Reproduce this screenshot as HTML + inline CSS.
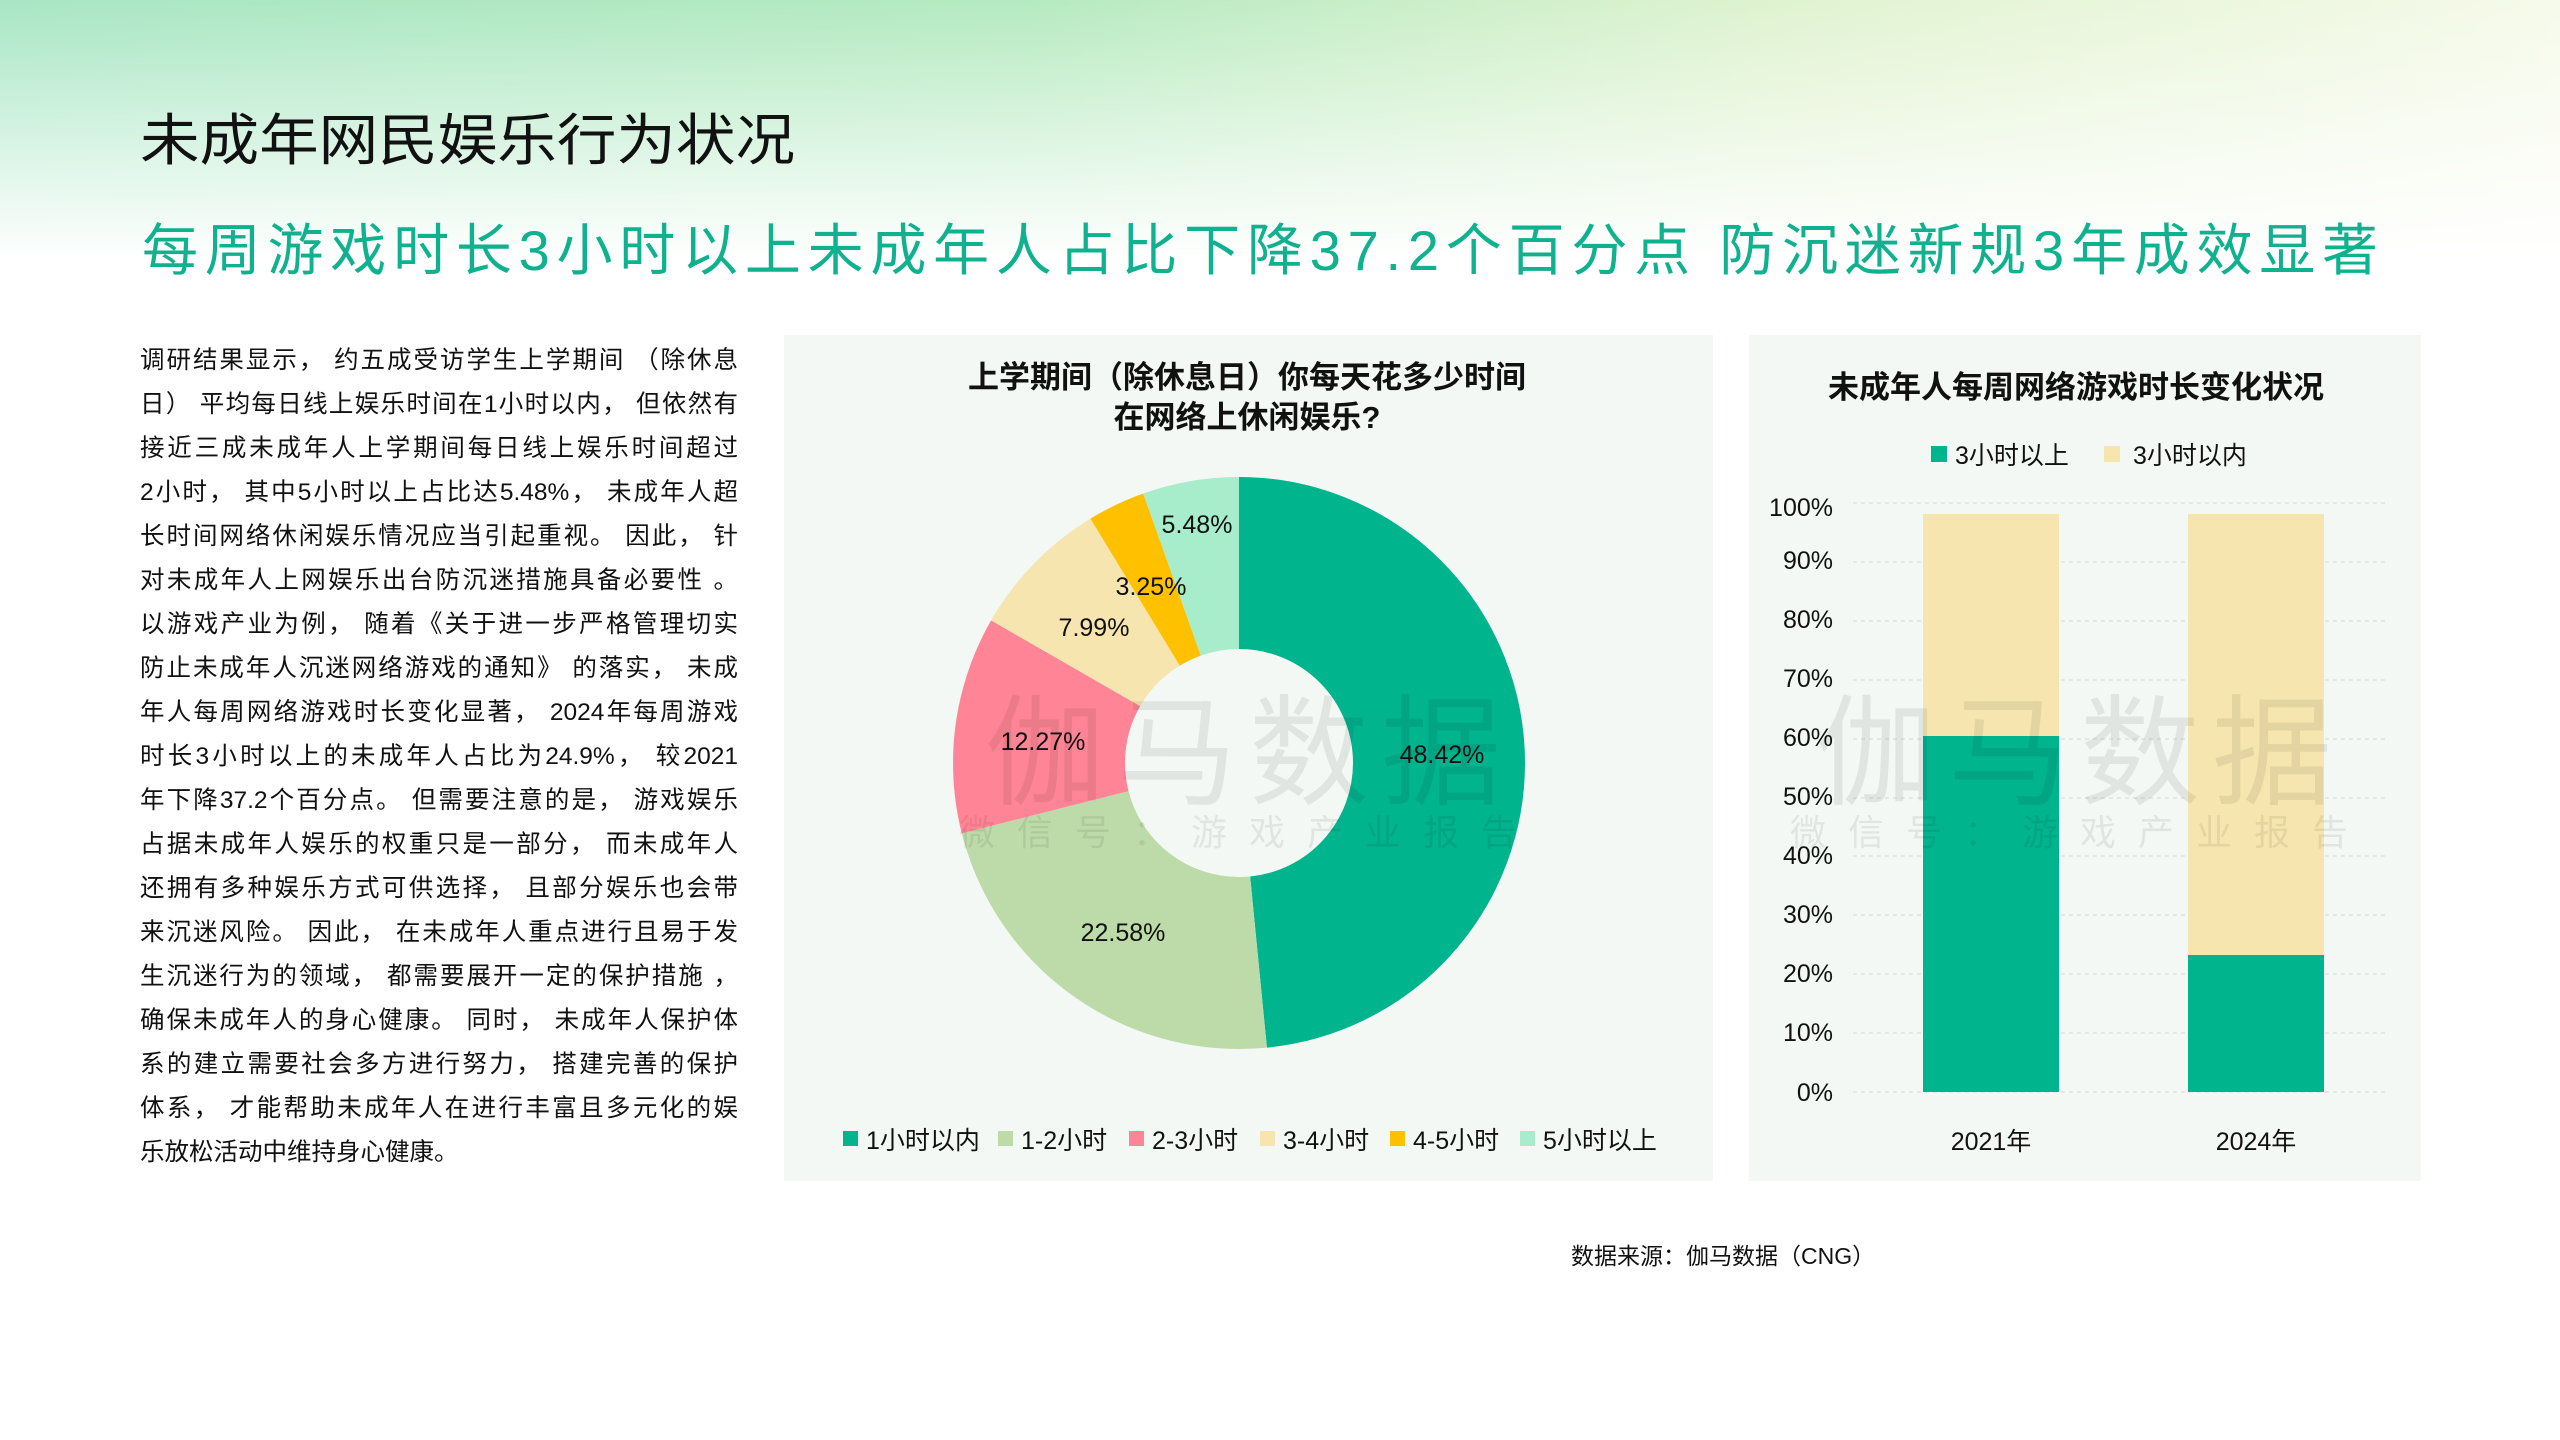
<!DOCTYPE html>
<html><head><meta charset="utf-8">
<style>
html,body{margin:0;padding:0}
body{width:2560px;height:1440px;position:relative;overflow:hidden;background:#fff;font-family:"Liberation Sans","Noto Sans CJK SC",sans-serif}
.bg{position:absolute;left:0;top:0;width:2560px;height:260px;background:linear-gradient(180deg,rgba(255,255,255,0) 0%,#fff 100%),linear-gradient(90deg,#a8e6c4 0%,#b5eac0 40%,#e0f3d0 70%,#f6faea 100%)}
.body{position:absolute;left:140px;top:339px;width:598px;font-size:24.5px;line-height:44px;color:#111}
.body div{text-align:justify;text-align-last:justify;height:44px;white-space:nowrap}
.body div.last{text-align-last:left}
.panel{position:absolute;background:#f3f8f4}
</style></head><body>
<div class="bg"></div>
<svg style="position:absolute;left:0;top:0" width="2560" height="300">
<text x="140" y="160" font-size="56" fill="#111" textLength="655" lengthAdjust="spacingAndGlyphs" font-family="Liberation Sans,Noto Sans CJK SC,sans-serif">未成年网民娱乐行为状况</text>
<text x="142" y="270" font-size="56" fill="#0fb18e" textLength="2236" lengthAdjust="spacing" font-family="Liberation Sans,Noto Sans CJK SC,sans-serif">每周游戏时长3小时以上未成年人占比下降37.2个百分点  防沉迷新规3年成效显著</text>
</svg>
<div class="body">
<div>调研结果显示， 约五成受访学生上学期间 （除休息</div>
<div>日） 平均每日线上娱乐时间在1小时以内， 但依然有</div>
<div>接近三成未成年人上学期间每日线上娱乐时间超过</div>
<div>2小时， 其中5小时以上占比达5.48%， 未成年人超</div>
<div>长时间网络休闲娱乐情况应当引起重视。 因此， 针</div>
<div>对未成年人上网娱乐出台防沉迷措施具备必要性 。</div>
<div>以游戏产业为例， 随着《关于进一步严格管理切实</div>
<div>防止未成年人沉迷网络游戏的通知》 的落实， 未成</div>
<div>年人每周网络游戏时长变化显著， 2024年每周游戏</div>
<div>时长3小时以上的未成年人占比为24.9%， 较2021</div>
<div>年下降37.2个百分点。 但需要注意的是， 游戏娱乐</div>
<div>占据未成年人娱乐的权重只是一部分， 而未成年人</div>
<div>还拥有多种娱乐方式可供选择， 且部分娱乐也会带</div>
<div>来沉迷风险。 因此， 在未成年人重点进行且易于发</div>
<div>生沉迷行为的领域， 都需要展开一定的保护措施 ，</div>
<div>确保未成年人的身心健康。 同时， 未成年人保护体</div>
<div>系的建立需要社会多方进行努力， 搭建完善的保护</div>
<div>体系， 才能帮助未成年人在进行丰富且多元化的娱</div>
<div class="last">乐放松活动中维持身心健康。</div>
</div>

<div class="panel" style="left:784px;top:335px;width:929px;height:846px"></div>
<div class="panel" style="left:1749px;top:335px;width:672px;height:846px"></div>

<svg style="position:absolute;left:0;top:0" width="2560" height="1440" font-family="Liberation Sans,Noto Sans CJK SC,sans-serif">
<text x="1247" y="388" font-size="31" font-weight="bold" text-anchor="middle" fill="#111">上学期间（除休息日）你每天花多少时间</text>
<text x="1247" y="428" font-size="31" font-weight="bold" text-anchor="middle" fill="#111">在网络上休闲娱乐?</text>
<g transform="translate(1239,763) rotate(-90)" fill="none" stroke-width="172">
<circle r="200" stroke="#00b48e" stroke-dasharray="608.5 2000" stroke-dashoffset="0"/>
<circle r="200" stroke="#bddba8" stroke-dasharray="283.8 2000" stroke-dashoffset="-608.5"/>
<circle r="200" stroke="#ff8596" stroke-dasharray="154.2 2000" stroke-dashoffset="-892.3"/>
<circle r="200" stroke="#f6e5ae" stroke-dasharray="100.4 2000" stroke-dashoffset="-1046.5"/>
<circle r="200" stroke="#ffc000" stroke-dasharray="40.9 2000" stroke-dashoffset="-1146.9"/>
<circle r="200" stroke="#a8edcb" stroke-dasharray="68.9 2000" stroke-dashoffset="-1187.8"/>
</g>
<g font-size="25" fill="#111" text-anchor="middle">
<text x="1442" y="763">48.42%</text>
<text x="1123" y="941">22.58%</text>
<text x="1043" y="750">12.27%</text>
<text x="1094" y="636">7.99%</text>
<text x="1151" y="595">3.25%</text>
<text x="1197" y="533">5.48%</text>
</g>
<g font-size="25" fill="#111">
<rect x="843" y="1131" width="15" height="15" fill="#00b48e"/><text x="866" y="1149">1小时以内</text>
<rect x="998" y="1131" width="15" height="15" fill="#bddba8"/><text x="1021" y="1149">1-2小时</text>
<rect x="1129" y="1131" width="15" height="15" fill="#ff8596"/><text x="1152" y="1149">2-3小时</text>
<rect x="1260" y="1131" width="15" height="15" fill="#f6e5ae"/><text x="1283" y="1149">3-4小时</text>
<rect x="1390" y="1131" width="15" height="15" fill="#ffc000"/><text x="1413" y="1149">4-5小时</text>
<rect x="1520" y="1131" width="15" height="15" fill="#a8edcb"/><text x="1543" y="1149">5小时以上</text>
</g>

<text x="2076" y="398" font-size="31" font-weight="bold" text-anchor="middle" fill="#111">未成年人每周网络游戏时长变化状况</text>
<g font-size="25" fill="#111">
<rect x="1931" y="446" width="16" height="16" fill="#00b48e"/><text x="1955" y="464">3小时以上</text>
<rect x="2104" y="446" width="16" height="16" fill="#f6e5ae"/><text x="2133" y="464">3小时以内</text>
</g>
<g stroke="#dde3de" stroke-dasharray="4 4" stroke-width="1.5">
<line x1="1853" x2="2387" y1="503" y2="503"/><line x1="1853" x2="2387" y1="562" y2="562"/>
<line x1="1853" x2="2387" y1="621" y2="621"/><line x1="1853" x2="2387" y1="680" y2="680"/>
<line x1="1853" x2="2387" y1="739" y2="739"/><line x1="1853" x2="2387" y1="798" y2="798"/>
<line x1="1853" x2="2387" y1="856" y2="856"/><line x1="1853" x2="2387" y1="915" y2="915"/>
<line x1="1853" x2="2387" y1="974" y2="974"/><line x1="1853" x2="2387" y1="1033" y2="1033"/>
<line x1="1853" x2="2387" y1="1092" y2="1092"/>
</g>
<g font-size="25" fill="#111" text-anchor="end">
<text x="1833" y="516">100%</text><text x="1833" y="569">90%</text><text x="1833" y="628">80%</text>
<text x="1833" y="687">70%</text><text x="1833" y="746">60%</text><text x="1833" y="805">50%</text>
<text x="1833" y="864">40%</text><text x="1833" y="923">30%</text><text x="1833" y="982">20%</text>
<text x="1833" y="1041">10%</text><text x="1833" y="1101">0%</text>
</g>
<rect x="1923" y="514" width="136" height="222" fill="#f6e5ae"/>
<rect x="1923" y="736" width="136" height="356" fill="#00b48e"/>
<rect x="2188" y="514" width="136" height="441" fill="#f6e5ae"/>
<rect x="2188" y="955" width="136" height="137" fill="#00b48e"/>
<g font-size="25" fill="#111" text-anchor="middle">
<text x="1991" y="1150">2021年</text><text x="2256" y="1150">2024年</text>
</g>

<g fill="#000" opacity="0.07" text-anchor="middle">
<text x="1249" y="795" font-size="120" letter-spacing="12">伽马数据</text>
<text x="1249" y="845" font-size="36" letter-spacing="22">微信号：游戏产业报告</text>
<text x="2080" y="795" font-size="120" letter-spacing="12">伽马数据</text>
<text x="2080" y="845" font-size="36" letter-spacing="22">微信号：游戏产业报告</text>
</g>
<text x="1571" y="1264" font-size="23" fill="#111">数据来源：伽马数据（CNG）</text>
</svg>
</body></html>
